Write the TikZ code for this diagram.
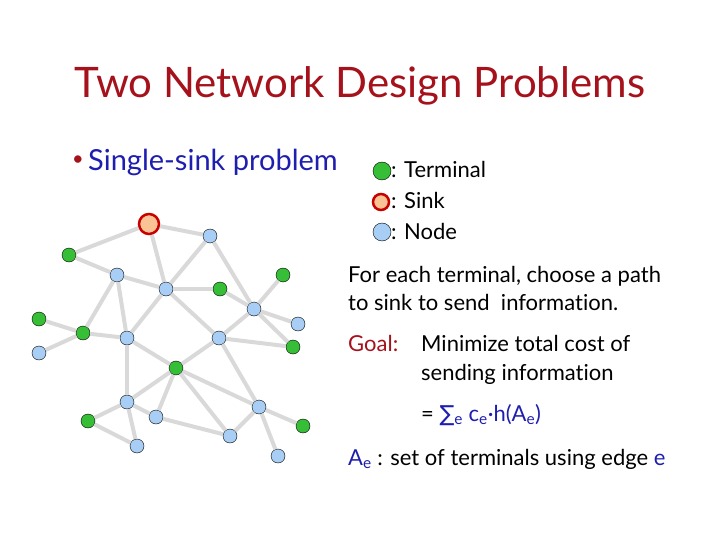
\documentclass[tikz,border=0pt]{standalone}
\usepackage{fontspec}
\setmainfont[Ligatures={NoCommon}]{Lato}
\newfontfamily\symfont{DejaVu Sans}
\usetikzlibrary{positioning}
\definecolor{titlered}{RGB}{165,18,28}
\definecolor{textblue}{RGB}{30,30,175}
\definecolor{termgreen}{RGB}{55,190,55}
\definecolor{nodeblue}{RGB}{168,206,245}
\definecolor{sinkred}{RGB}{200,0,0}
\definecolor{sinkfill}{RGB}{250,195,150}
\definecolor{edgegray}{RGB}{217,217,217}

\begin{document}
\begin{tikzpicture}[x=1pt,y=-1pt]
\tikzstyle{terminal} = [circle, draw=black, fill=termgreen, minimum size=14pt, inner sep=0, thin]
\tikzstyle{vertex} = [circle, draw=black, fill=nodeblue, minimum size=14pt, inner sep=0, thin]
\tikzstyle{sink} = [circle, draw=sinkred, fill=sinkfill, line width=2.5pt, minimum size=20pt, inner sep=0]
\tikzstyle{edge} = [line width=4pt, draw=edgegray]
\tikzstyle{txt} = [anchor=base west, inner sep=0, font=\fontsize{22}{26}\selectfont]

\useasboundingbox (0,0) rectangle (720,540);

% title and bullet
\node (title) [anchor=base, inner sep=0, text=titlered, font=\fontsize{42}{50}\selectfont] at (360,98) {Two Network Design Problems};
\node (bullet) [anchor=base, inner sep=0, text=titlered, font=\fontsize{20}{24}\selectfont] at (78,166) {•};
\node (single) [anchor=base west, inner sep=0, text=textblue, font=\fontsize{29}{34}\selectfont] at (88,171) {Single-sink problem};

% legend
\node (legT) [terminal, minimum size=18pt] at (382,171) {};
\node (legS) [sink, minimum size=16pt] at (381,202) {};
\node (legN) [vertex, minimum size=18pt] at (382,232) {};
\node [txt] at (391,178) {: Terminal};
\node [txt] at (391,209) {: Sink};
\node [txt] at (391,240) {: Node};

% text on the right
\node [txt] at (348,282) {For each terminal, choose a path};
\node [txt] at (348,310) {to sink to send\ \ information.};
\node [txt, text=titlered] at (348,351) {Goal:};
\node [txt] at (421,351) {Minimize total cost of};
\node [txt] at (421,380) {sending information};
\node [txt] at (421,421) {= {\color{textblue}{\symfont∑}\textsubscript{e} c\textsubscript{e}·h(A\textsubscript{e})}};
\node [txt] at (348,465) {{\color{textblue}A\textsubscript{e}} : set of terminals using edge {\color{textblue}e}};

% graph
\node (s) [sink] at (149,224) {};
\node (n1) [vertex] at (210,236) {};
\node (t1) [terminal] at (69,255) {};
\node (n2) [vertex] at (117,275) {};
\node (n3) [vertex] at (166,289) {};
\node (t2) [terminal] at (220,289) {};
\node (t3) [terminal] at (283,275) {};
\node (n4) [vertex] at (254,309) {};
\node (n5) [vertex] at (298,324) {};
\node (t4) [terminal] at (39,319) {};
\node (t5) [terminal] at (83,333) {};
\node (n6) [vertex] at (127,338) {};
\node (n7) [vertex] at (219,338) {};
\node (t6) [terminal] at (293,347) {};
\node (n8) [vertex] at (39,353) {};
\node (t7) [terminal] at (176,368) {};
\node (n9) [vertex] at (127,402) {};
\node (n10) [vertex] at (156,417) {};
\node (n11) [vertex] at (259,407) {};
\node (t8) [terminal] at (88,421) {};
\node (n12) [vertex] at (230,436) {};
\node (t9) [terminal] at (303,426) {};
\node (n13) [vertex] at (137,446) {};
\node (n14) [vertex] at (278,456) {};

\foreach \a/\b in {s/t1, s/n1, s/n3, t1/n2, n2/n3, n2/t5, n2/n6, n3/n1, n3/t2, n3/n6, n3/n7,
  n1/n4, t2/n4, n4/t3, n4/n5, n4/t6, n7/n4, n7/t6, n7/t7, n7/n11, t4/t5, n8/t5, t5/n6,
  n6/t7, n6/n9, t7/n9, t7/n10, t7/n12, t7/n11, n9/t8, n9/n10, n9/n13, t8/n13, n10/n12,
  n12/n11, n11/t9, n11/n14}
{
\draw [edge] (\a) -- (\b);
}

\end{tikzpicture}
\end{document}
